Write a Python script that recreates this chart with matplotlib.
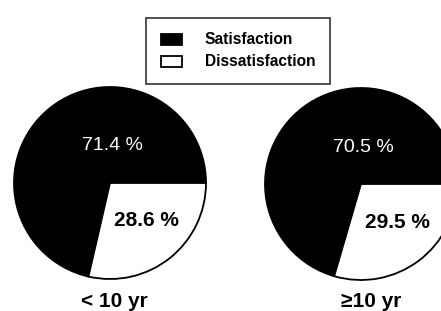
import matplotlib
matplotlib.use("Agg")
import matplotlib.pyplot as plt

plt.rcParams['font.family'] = ['Liberation Sans', 'DejaVu Sans']

groups = ['< 10 yr', '\u226510 yr']
series = ['Satisfaction', 'Dissatisfaction']
satisfaction = [71.4, 70.5]
dissatisfaction = [28.6, 29.5]
colors = ['black', 'white']

W, H = 441, 311
fig = plt.figure(figsize=(W / 100, H / 100), dpi=100)
ax = fig.add_axes([0, 0, 1, 1])

centers = [(110, H - 183), (361, H - 184)]
R = 96

handles = None
for i, (c, s, d) in enumerate(zip(centers, satisfaction, dissatisfaction)):
    wedges, _ = ax.pie([s, d], colors=colors, startangle=0, counterclock=True,
                       center=c, radius=R,
                       wedgeprops=dict(edgecolor='black', linewidth=1.3))
    handles = wedges
    # labels
    ax.text(c[0] + 2, c[1] + 37, f'{s} %', color='white', fontsize=14,
            ha='center', va='center')
    ax.text(c[0] + 36, c[1] - 38, f'{d} %', color='black', fontsize=15,
            fontweight='bold', ha='center', va='center')
    ax.text(c[0] + 4 + i * 6, H - 307, groups[i], color='black', fontsize=15,
            fontweight='bold', ha='center', va='baseline')

ax.set_xlim(0, W)
ax.set_ylim(0, H)
ax.set_aspect('equal')
ax.axis('off')

leg = fig.legend(handles, series, loc='center',
                 bbox_to_anchor=(238 / W, 1 - 51 / H),
                 prop=dict(size=11.2, weight='bold'),
                 frameon=True, fancybox=False, edgecolor='black',
                 handlelength=1.35, handleheight=0.7, handletextpad=1.5,
                 borderpad=0.95, labelspacing=0.45)
leg.get_frame().set_linewidth(1.2)

fig.savefig('out.png', dpi=100)
